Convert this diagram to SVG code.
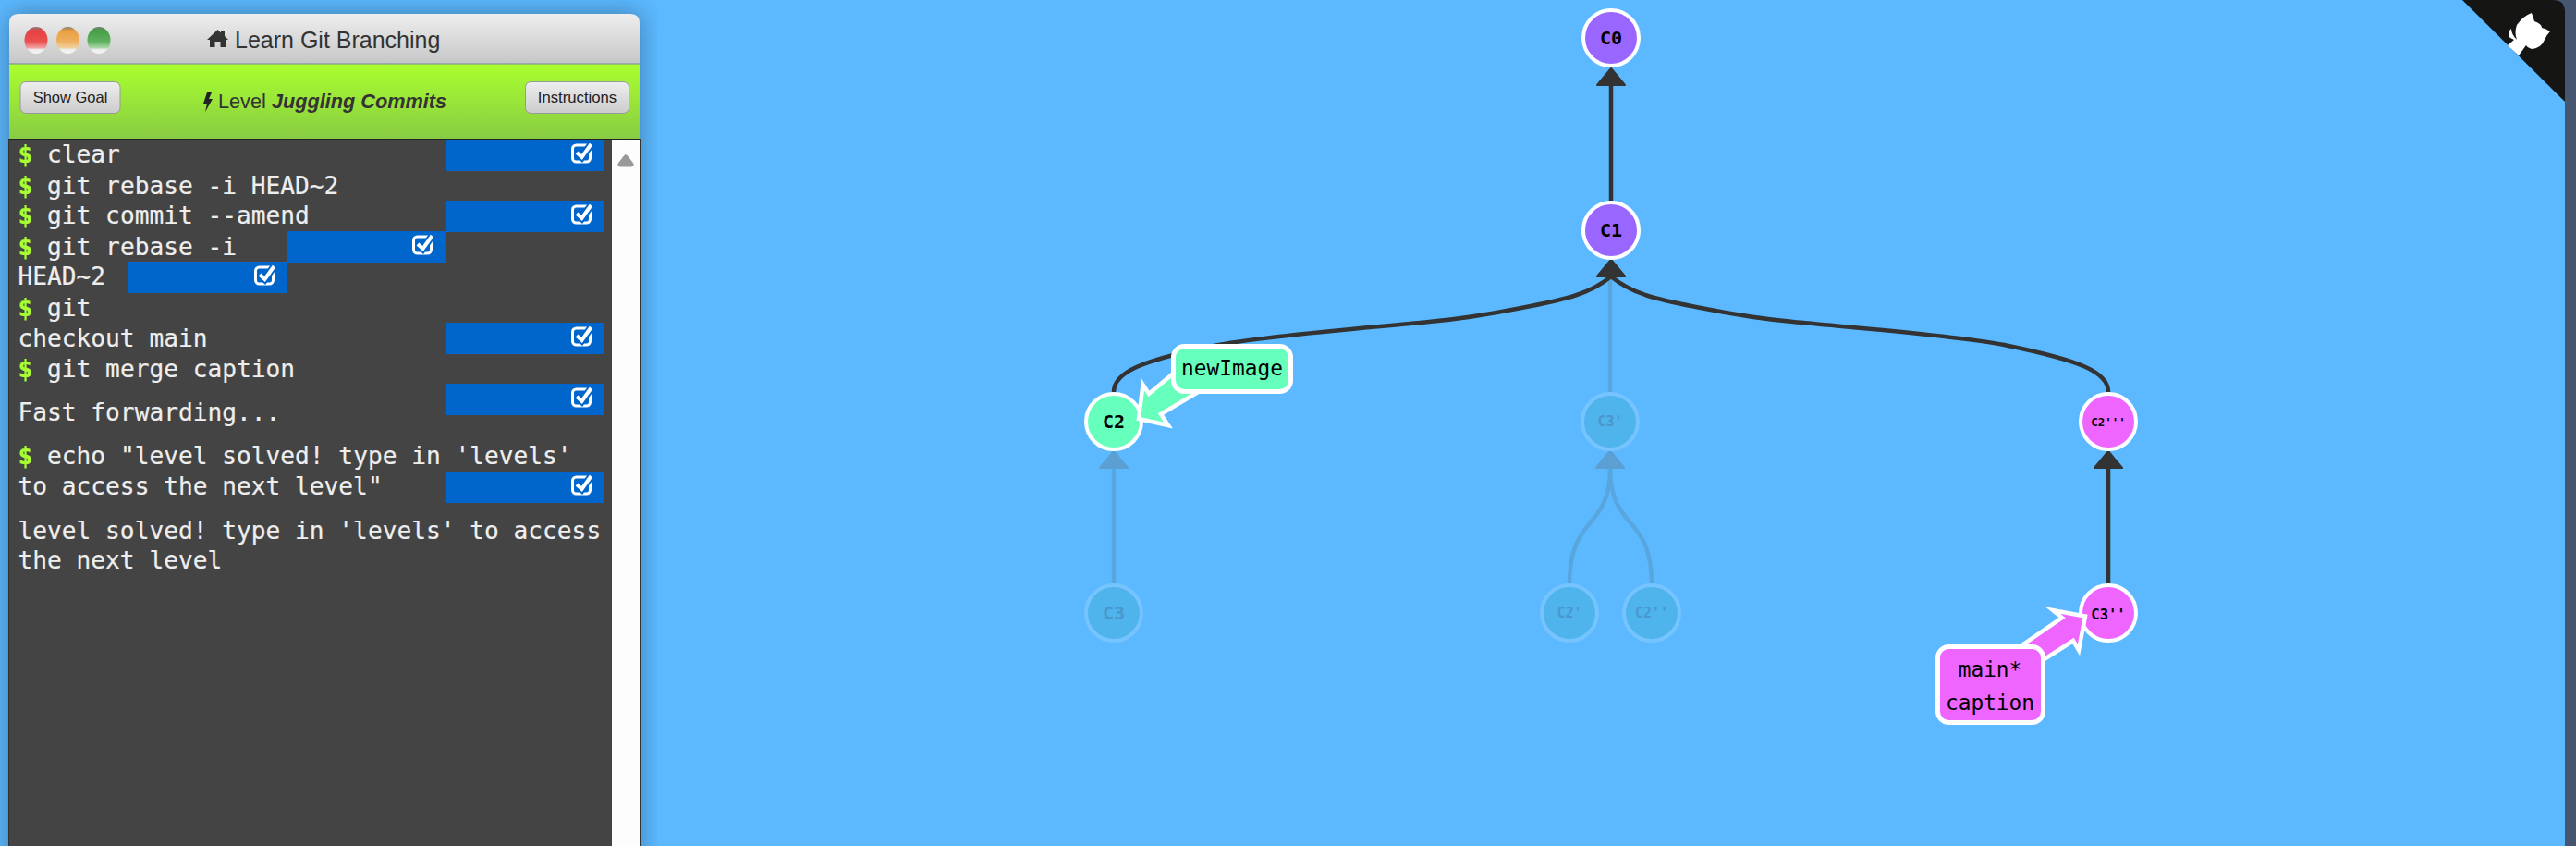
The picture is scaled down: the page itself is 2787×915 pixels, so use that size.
<svg xmlns="http://www.w3.org/2000/svg" width="2787" height="915" viewBox="0 0 2787 915">
<style>
.term{font:26.2px "DejaVu Sans Mono",monospace;fill:#eee;stroke:#eee;stroke-width:.2;white-space:pre}
.dollar{fill:#aaff33;stroke:#aaff33;font-weight:bold}
.ui{font-family:"Liberation Sans",Arial,sans-serif;fill:#333}
.edge{fill:none;stroke:#333;stroke-width:4.5}
.edgef{fill:none;stroke:#58a6de;stroke-width:4.5}
.node{stroke:#fff;stroke-width:4}
.nodef{fill:#4fb3ec;stroke:#76c4ff;stroke-width:4}
.nt{font-family:"DejaVu Sans Mono",monospace;font-weight:bold;text-anchor:middle;fill:#000}
.ntf{font-family:"DejaVu Sans Mono",monospace;font-weight:bold;text-anchor:middle;fill:#4a97cd}
.lab{font:22.8px "DejaVu Sans Mono",monospace;text-anchor:middle;fill:#000}
.ref{stroke:#fff;stroke-width:4.5;stroke-miterlimit:12}
.blue{fill:#0066cc}
</style>
<defs>
<linearGradient id="hdr" x1="0" y1="0" x2="0" y2="1"><stop offset="0" stop-color="#eeeeee"/><stop offset="1" stop-color="#c6c6c6"/></linearGradient>
<linearGradient id="grn" x1="0" y1="0" x2="0" y2="1"><stop offset="0" stop-color="#aaff2e"/><stop offset="1" stop-color="#88cc44"/></linearGradient>
<linearGradient id="btn" x1="0" y1="0" x2="0" y2="1"><stop offset="0" stop-color="#eeeeee"/><stop offset="1" stop-color="#cccccc"/></linearGradient>
<linearGradient id="r" x1="0" y1="0" x2="0" y2="1"><stop offset="0" stop-color="#8a7a7a"/><stop offset=".15" stop-color="#e84040"/><stop offset=".55" stop-color="#ea5050"/><stop offset=".78" stop-color="#f0a0a0"/><stop offset=".85" stop-color="#eeeeee"/><stop offset="1" stop-color="#f4f4f4"/></linearGradient>
<linearGradient id="y" x1="0" y1="0" x2="0" y2="1"><stop offset="0" stop-color="#8a8070"/><stop offset=".15" stop-color="#eaa040"/><stop offset=".55" stop-color="#eeb060"/><stop offset=".78" stop-color="#f0d0a0"/><stop offset=".85" stop-color="#eeeeee"/><stop offset="1" stop-color="#f4f4f4"/></linearGradient>
<linearGradient id="g" x1="0" y1="0" x2="0" y2="1"><stop offset="0" stop-color="#708070"/><stop offset=".15" stop-color="#44a044"/><stop offset=".55" stop-color="#60b060"/><stop offset=".78" stop-color="#a8d8a8"/><stop offset=".85" stop-color="#eeeeee"/><stop offset="1" stop-color="#f4f4f4"/></linearGradient>
<filter id="sh" x="-15%" y="-15%" width="130%" height="130%"><feGaussianBlur stdDeviation="14"/></filter>
<clipPath id="shc"><rect x="0" y="0" width="711" height="915"/></clipPath>
<marker id="ah" markerUnits="userSpaceOnUse" markerWidth="36" markerHeight="24" refX="18" refY="20" orient="0" overflow="visible"><path d="M18 2L33 20H3Z" fill="#333" stroke="#333" stroke-width="2" stroke-linejoin="round"/></marker>
<marker id="ahf" markerUnits="userSpaceOnUse" markerWidth="36" markerHeight="24" refX="18" refY="20" orient="0" overflow="visible"><path d="M18 2L33 20H3Z" fill="#5b9fd3" stroke="#5b9fd3" stroke-width="2" stroke-linejoin="round"/></marker>
<g id="chk"><rect x="1.500" y="3" width="19" height="18" rx="4" fill="none" stroke="#fff" stroke-width="3"/><path d="M6 11L11.500 16L21.500 2" fill="none" stroke="#0066cc" stroke-width="8"/><path d="M6 11L11.500 16L21.500 2" fill="none" stroke="#fff" stroke-width="4"/></g>
</defs>
<rect width="2787" height="915" fill="#465570"/>
<path d="M0 0H2763Q2775 0 2775 12V915H0Z" fill="#5cb9ff"/>
<g id="github-corner"><path d="M2664 0H2763Q2775 0 2775 12V110Z" fill="#151513"/>
<path d="M2723 27Q2730 17 2739 14L2742 23Q2750 26 2750 30Q2755 31 2759 34Q2755 38 2753 43Q2750 51 2740 53Q2735 52 2733 49L2725 60L2713 49L2720 43Q2713 40 2714 38Q2714 33 2717 31Q2717 37 2723 43Q2720 35 2723 27Z" fill="#fff"/></g>
<g clip-path="url(#shc)"><rect x="10" y="15" width="682" height="960" fill="#000" opacity=".34" filter="url(#sh)"/></g>
<g id="window">
<rect x="9" y="150" width="684" height="765" fill="#333"/>
<path d="M10 69V25Q10 15 20 15H682Q692 15 692 25V69Z" fill="url(#hdr)"/>
<rect x="10" y="69" width="682" height="81" fill="url(#grn)"/>
<rect x="10" y="68.500" width="682" height="1" fill="#778899"/>
<rect x="10" y="150" width="682" height="1" fill="#222"/>
<rect x="10" y="151" width="652" height="764" fill="#444"/>
<rect x="662" y="151" width="30" height="764" fill="#fdfdfd"/>
<path d="M671 180H683Q686 180 685 177L679 169Q677 166 675 169L669 177Q668 180 671 180Z" fill="#999" stroke="#999"/>
<ellipse cx="39" cy="43.500" rx="12.500" ry="14.500" fill="url(#r)"/>
<ellipse cx="73.500" cy="43.500" rx="12.500" ry="14.500" fill="url(#y)"/>
<ellipse cx="107" cy="43.500" rx="12.500" ry="14.500" fill="url(#g)"/>
<path d="M224 43L235.500 32L239 35.500V33H243V39L247 43H244V51H238.500V45H232.500V51H227V43Z" fill="#333"/>
<text class="ui" x="254" y="52" font-size="25">Learn Git Branching</text>
<rect x="22" y="88.500" width="108" height="34" rx="6" fill="url(#btn)" stroke="#999"/>
<text class="ui" x="76" y="111" font-size="16.500" text-anchor="middle" style="fill:#222">Show Goal</text>
<rect x="568.500" y="88.500" width="112" height="34" rx="6" fill="url(#btn)" stroke="#999"/>
<text class="ui" x="624.500" y="111" font-size="16.700" text-anchor="middle" style="fill:#222">Instructions</text>
<path d="M224 100L220 112H224L222 121L230 107H226L229 100Z" fill="#222"/>
<text class="ui" x="236" y="117" font-size="21.700">Level <tspan font-weight="bold" font-style="italic">Juggling Commits</tspan></text>
<g>
<rect class="blue" x="482" y="151" width="171" height="34"/><use href="#chk" x="618" y="154"/>
<rect class="blue" x="482" y="217" width="171" height="34"/><use href="#chk" x="618" y="220"/>
<rect class="blue" x="310" y="250" width="172" height="34"/><use href="#chk" x="446" y="253"/>
<rect class="blue" x="139" y="283" width="171" height="34"/><use href="#chk" x="275" y="286"/>
<rect class="blue" x="482" y="349" width="171" height="34"/><use href="#chk" x="618" y="352"/>
<rect class="blue" x="482" y="415" width="171" height="34"/><use href="#chk" x="618" y="418"/>
<rect class="blue" x="482" y="510" width="171" height="34"/><use href="#chk" x="618" y="513"/>
</g>
<text class="term" x="19.500" y="176"><tspan class="dollar">$</tspan> clear</text>
<text class="term" x="19.500" y="209.500"><tspan class="dollar">$</tspan> git rebase -i HEAD~2</text>
<text class="term" x="19.500" y="242"><tspan class="dollar">$</tspan> git commit --amend</text>
<text class="term" x="19.500" y="275.500"><tspan class="dollar">$</tspan> git rebase -i</text>
<text class="term" x="19.500" y="308">HEAD~2</text>
<text class="term" x="19.500" y="342"><tspan class="dollar">$</tspan> git</text>
<text class="term" x="19.500" y="375">checkout main</text>
<text class="term" x="19.500" y="408"><tspan class="dollar">$</tspan> git merge caption</text>
<text class="term" x="19.500" y="455">Fast forwarding...</text>
<text class="term" x="19.500" y="502"><tspan class="dollar">$</tspan> echo "level solved! type in 'levels'</text>
<text class="term" x="19.500" y="535">to access the next level"</text>
<text class="term" x="19.500" y="583">level solved! type in 'levels' to access</text>
<text class="term" x="19.500" y="615">the next level</text>
</g>
<g id="connectors">
<path class="edgef" d="M1742 300V424"/>
<path class="edgef" d="M1205 632V506" marker-end="url(#ahf)"/>
<path class="edgef" d="M1698 632C1698 555 1742 575 1742 506" marker-end="url(#ahf)"/>
<path class="edgef" d="M1787 632C1787 555 1742 575 1742 506" marker-end="url(#ahf)"/>
<path class="edge" d="M1205 424C1205 402 1236 390 1313 374C1366 363 1486 354 1546 348C1580 345 1616 339 1646 333C1686 325 1718 320 1743 299" marker-end="url(#ah)"/>
<path class="edge" d="M2281 424C2281 402 2250 390 2173 374C2120 363 2000 354 1940 348C1906 345 1870 339 1840 333C1800 325 1768 320 1743 299" marker-end="url(#ah)"/>
<path class="edge" d="M1743 217V92" marker-end="url(#ah)"/>
<path class="edge" d="M2281 632V506" marker-end="url(#ah)"/>
</g>
<g id="C0"><circle class="node" cx="1743" cy="41" r="30" fill="#9966ff"/><text class="nt" x="1743" y="48" font-size="20">C0</text></g>
<g id="C1"><circle class="node" cx="1743" cy="249" r="30" fill="#9966ff"/><text class="nt" x="1743" y="256" font-size="20">C1</text></g>
<g id="C2"><circle class="node" cx="1205" cy="456" r="30" fill="#66ffbb"/><text class="nt" x="1205" y="463" font-size="20">C2</text></g>
<g id="C3"><circle class="nodef" cx="1205" cy="663" r="30"/><text class="ntf" x="1205" y="670" font-size="20">C3</text></g>
<g id="C3p"><circle class="nodef" cx="1742" cy="456" r="30"/><text class="ntf" x="1742" y="461" font-size="15">C3'</text></g>
<g id="C2p"><circle class="nodef" cx="1698" cy="663" r="30"/><text class="ntf" x="1698" y="668" font-size="15">C2'</text></g>
<g id="C2pp"><circle class="nodef" cx="1787" cy="663" r="30"/><text class="ntf" x="1787" y="668" font-size="15">C2''</text></g>
<g id="C2ppp"><circle class="node" cx="2281" cy="456" r="30" fill="#ee66ff"/><text class="nt" x="2281" y="461" font-size="12.500" font-weight="normal">C2'''</text></g>
<g id="C3pp"><circle class="node" cx="2281" cy="663" r="30" fill="#ee66ff"/><text class="nt" x="2281" y="670" font-size="15.500">C3''</text></g>
<g id="newImage"><path class="ref" d="M1232 453L1236.500 416L1243 426L1268 405L1298 423L1256 448L1264 460Z" fill="#66ffbb"/><rect x="1269.500" y="374.500" width="127" height="49" rx="12" fill="#66ffbb" stroke="#fff" stroke-width="5"/><text class="lab" x="1333" y="406">newImage</text></g>
<g id="main"><path class="ref" d="M2256 666.500L2221 660L2231 668L2186 699L2212 713L2243 693L2249 703Z" fill="#ee66ff"/><rect x="2096.500" y="699.500" width="114" height="82" rx="12" fill="#ee66ff" stroke="#fff" stroke-width="5"/><text class="lab" x="2153" y="732">main*</text><text class="lab" x="2153" y="768">caption</text></g>
</svg>
